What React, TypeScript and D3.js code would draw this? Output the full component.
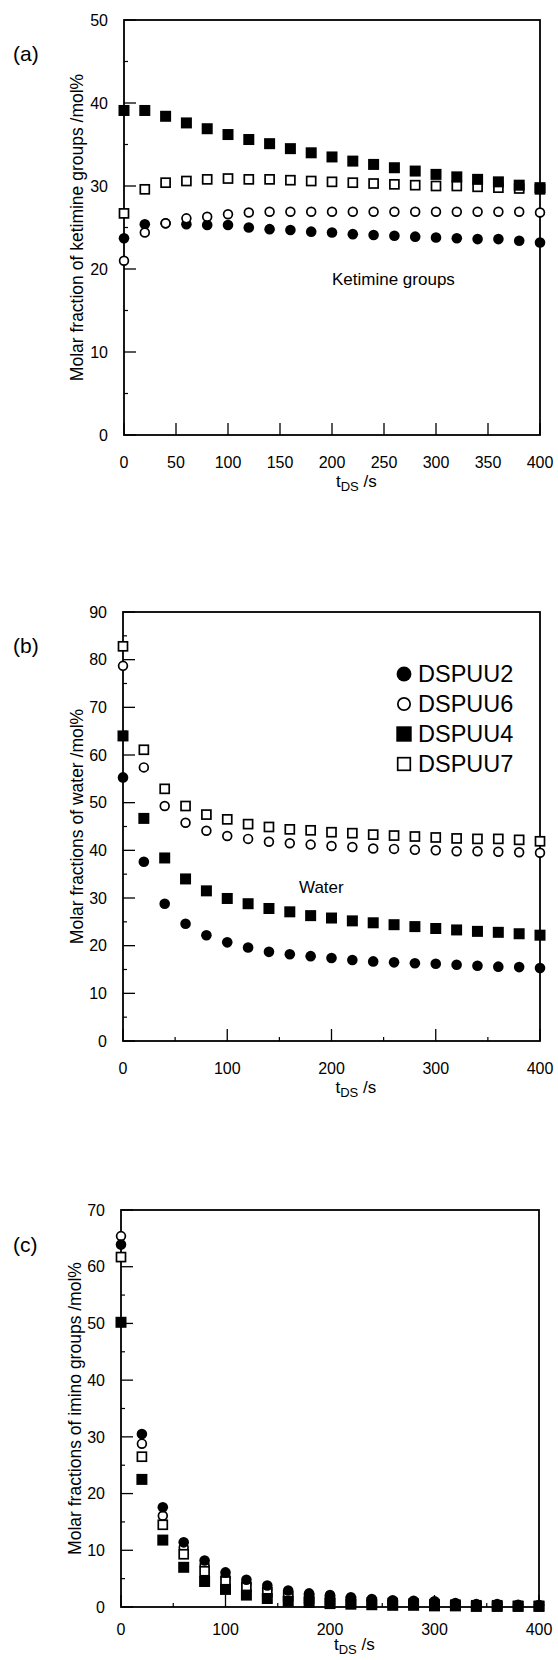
import React from "react";
import * as d3 from "d3";

const T = [0, 20, 40, 60, 80, 100, 120, 140, 160, 180, 200, 220, 240, 260, 280, 300, 320, 340, 360, 380, 400];

// (a) Ketimine groups
const ketDSPUU2 = [23.7, 25.4, 25.5, 25.4, 25.3, 25.3, 25.0, 24.8, 24.7, 24.5, 24.4, 24.2, 24.1, 24.0, 23.9, 23.8, 23.7, 23.6, 23.6, 23.4, 23.2];
const ketDSPUU6 = [21.0, 24.4, 25.5, 26.1, 26.3, 26.6, 26.8, 26.9, 26.9, 26.9, 26.9, 26.9, 26.9, 26.9, 26.9, 26.9, 26.9, 26.9, 26.9, 26.9, 26.8];
const ketDSPUU4 = [39.1, 39.1, 38.4, 37.6, 36.9, 36.2, 35.6, 35.1, 34.5, 34.0, 33.5, 33.0, 32.6, 32.2, 31.8, 31.4, 31.1, 30.8, 30.5, 30.1, 29.8];
const ketDSPUU7 = [26.7, 29.6, 30.4, 30.6, 30.8, 30.9, 30.8, 30.8, 30.7, 30.6, 30.5, 30.4, 30.3, 30.2, 30.1, 30.0, 30.0, 29.9, 29.8, 29.7, 29.6];

// (b) Water
const watDSPUU2 = [55.3, 37.6, 28.8, 24.6, 22.2, 20.7, 19.6, 18.7, 18.2, 17.8, 17.4, 17.0, 16.7, 16.5, 16.3, 16.2, 16.0, 15.8, 15.6, 15.5, 15.3];
const watDSPUU6 = [78.7, 57.4, 49.3, 45.8, 44.1, 43.0, 42.4, 41.8, 41.5, 41.2, 40.9, 40.7, 40.4, 40.3, 40.1, 40.0, 39.8, 39.8, 39.7, 39.6, 39.5];
const watDSPUU4 = [64.0, 46.7, 38.4, 34.0, 31.5, 29.9, 28.8, 27.8, 27.1, 26.3, 25.8, 25.2, 24.8, 24.4, 24.0, 23.6, 23.3, 23.0, 22.8, 22.5, 22.2];
const watDSPUU7 = [82.8, 61.1, 52.9, 49.3, 47.5, 46.5, 45.5, 44.9, 44.4, 44.2, 43.8, 43.6, 43.3, 43.1, 42.9, 42.7, 42.5, 42.4, 42.4, 42.2, 41.9];

// (c) Imino groups
const imiDSPUU2 = [63.9, 30.5, 17.6, 11.4, 8.2, 6.1, 4.8, 3.8, 2.9, 2.4, 2.1, 1.7, 1.4, 1.2, 1.1, 1.0, 0.7, 0.5, 0.5, 0.4, 0.35];
const imiDSPUU6 = [65.4, 28.8, 16.1, 10.5, 7.4, 5.3, 4.1, 3.1, 2.3, 1.9, 1.6, 1.3, 1.1, 0.9, 0.8, 0.7, 0.5, 0.4, 0.4, 0.3, 0.3];
const imiDSPUU4 = [50.2, 22.5, 11.8, 7.0, 4.5, 3.1, 2.1, 1.5, 1.0, 0.8, 0.6, 0.5, 0.4, 0.3, 0.3, 0.2, 0.2, 0.1, 0.1, 0.1, 0.1];
const imiDSPUU7 = [61.7, 26.5, 14.5, 9.3, 6.3, 4.5, 3.5, 2.6, 1.9, 1.5, 1.2, 1.0, 0.8, 0.7, 0.6, 0.5, 0.4, 0.3, 0.3, 0.2, 0.2];

const seriesNames = ["DSPUU2", "DSPUU6", "DSPUU4", "DSPUU7"];
const xTicksA = [0, 50, 100, 150, 200, 250, 300, 350, 400];
const xTicksBC = [0, 100, 200, 300, 400];

const FONT = "'Liberation Sans', Arial, Helvetica, sans-serif";

type Kind = "fc" | "oc" | "fs" | "os";
const kinds: Record<string, Kind> = { DSPUU2: "fc", DSPUU6: "oc", DSPUU4: "fs", DSPUU7: "os" };

function Marker({ kind, x, y, s = 1 }: { kind: Kind; x: number; y: number; s?: number }) {
  if (kind === "fc") return <circle cx={x} cy={y} r={5.3 * s} fill="#000" />;
  if (kind === "oc") return <circle cx={x} cy={y} r={4.4 * s} fill="#fff" stroke="#000" strokeWidth={1.7} />;
  if (kind === "fs") return <rect x={x - 5.5 * s} y={y - 5.5 * s} width={11 * s} height={11 * s} fill="#000" />;
  return <rect x={x - 4.5 * s} y={y - 4.5 * s} width={9 * s} height={9 * s} fill="#fff" stroke="#000" strokeWidth={1.7} />;
}

type PanelProps = {
  left: number; right: number; top: number; bottom: number; ymax: number;
  xTicks: number[]; xMinor: number[]; tag: string; tagY: number; yLabel: string; yLabelX: number;
  series: { name: string; values: number[] }[];
  xLabelGap: number; xTitleGap: number;
  note?: { text: string; x: number; y: number };
};

function Panel(p: PanelProps) {
  const x = d3.scaleLinear().domain([0, 400]).range([p.left, p.right]);
  const y = d3.scaleLinear().domain([0, p.ymax]).range([p.bottom, p.top]);
  const yMajor = d3.range(0, p.ymax + 0.1, 10);
  const yMinor = d3.range(5, p.ymax, 10);
  const cy = (p.top + p.bottom) / 2;
  return (
    <g fontFamily={FONT}>
      <rect x={p.left} y={p.top} width={p.right - p.left} height={p.bottom - p.top} fill="none" stroke="#000" strokeWidth={1.8} />
      {yMajor.map((v) => (
        <g key={"ym" + v}>
          <line x1={p.left} x2={p.left + 12} y1={y(v)} y2={y(v)} stroke="#000" strokeWidth={1.3} />
          <text x={p.left - 16} y={y(v)} dy="0.36em" textAnchor="end" fontSize={16}>{v}</text>
        </g>
      ))}
      {yMinor.map((v) => (
        <line key={"yn" + v} x1={p.left} x2={p.left + 4} y1={y(v)} y2={y(v)} stroke="#000" strokeWidth={1.2} />
      ))}
      {p.xTicks.map((v) => (
        <g key={"xm" + v}>
          <line x1={x(v)} x2={x(v)} y1={p.bottom} y2={p.bottom - 12} stroke="#000" strokeWidth={1.3} />
          <text x={x(v)} y={p.bottom + p.xLabelGap} dy="0.36em" textAnchor="middle" fontSize={16}>{v}</text>
        </g>
      ))}
      {p.xMinor.map((v) => (
        <line key={"xn" + v} x1={x(v)} x2={x(v)} y1={p.bottom} y2={p.bottom - 4} stroke="#000" strokeWidth={1.2} />
      ))}
      <text x={x(200) + 4} y={p.bottom + p.xTitleGap} fontSize={17}>
        t<tspan fontSize={13} dy={4}>DS</tspan><tspan dy={-4}> /s</tspan>
      </text>
      <text transform={`translate(${p.yLabelX},${cy}) rotate(-90)`} textAnchor="middle" dy="0.36em" fontSize={17.5}>{p.yLabel}</text>
      <text x={13} y={p.tagY} dy="0.36em" fontSize={21}>{p.tag}</text>
      {p.note && <text x={p.note.x} y={p.note.y} dy="0.36em" fontSize={17}>{p.note.text}</text>}
      {p.series.map((s) => (
        <g key={s.name}>
          {s.values.map((v, i) => (
            <Marker key={i} kind={kinds[s.name]} x={x(T[i])} y={y(v)} />
          ))}
        </g>
      ))}
    </g>
  );
}

export default function App() {
  const legendY = [674, 704, 734, 764];
  return (
    <svg width={558} height={1660} style={{ position: "absolute", left: 0, top: 0, background: "#fff" }}>
      <rect width={558} height={1660} fill="#fff" />
      <Panel
        left={124} right={540} top={20} bottom={435} ymax={50}
        xTicks={xTicksA} xMinor={[]} tag="(a)" tagY={53}
        yLabel="Molar fraction of ketimine groups /mol%" yLabelX={77} xLabelGap={27} xTitleGap={52}
        note={{ text: "Ketimine groups", x: 332, y: 279 }}
        series={[
          { name: "DSPUU2", values: ketDSPUU2 },
          { name: "DSPUU6", values: ketDSPUU6 },
          { name: "DSPUU7", values: ketDSPUU7 },
          { name: "DSPUU4", values: ketDSPUU4 },
        ]}
      />
      <Panel
        left={123} right={540} top={612} bottom={1041} ymax={90}
        xTicks={xTicksBC} xMinor={[50, 150, 250, 350]} tag="(b)" tagY={645}
        yLabel="Molar fractions of water /mol%" yLabelX={77} xLabelGap={27} xTitleGap={52}
        note={{ text: "Water", x: 299, y: 887 }}
        series={[
          { name: "DSPUU6", values: watDSPUU6 },
          { name: "DSPUU7", values: watDSPUU7 },
          { name: "DSPUU2", values: watDSPUU2 },
          { name: "DSPUU4", values: watDSPUU4 },
        ]}
      />
      <g fontFamily={FONT}>
        {seriesNames.map((n, i) => (
          <g key={n}>
            <Marker kind={kinds[n]} x={404} y={legendY[i]} s={1.4} />
            <text x={418} y={legendY[i]} dy="0.36em" fontSize={23.5}>{n}</text>
          </g>
        ))}
      </g>
      <Panel
        left={121} right={539} top={1210} bottom={1607} ymax={70}
        xTicks={xTicksBC} xMinor={[50, 150, 250, 350]} tag="(c)" tagY={1244}
        yLabel="Molar fractions of imino groups /mol%" yLabelX={75} xLabelGap={22} xTitleGap={43}
        series={[
          { name: "DSPUU6", values: imiDSPUU6 },
          { name: "DSPUU7", values: imiDSPUU7 },
          { name: "DSPUU2", values: imiDSPUU2 },
          { name: "DSPUU4", values: imiDSPUU4 },
        ]}
      />
    </svg>
  );
}
